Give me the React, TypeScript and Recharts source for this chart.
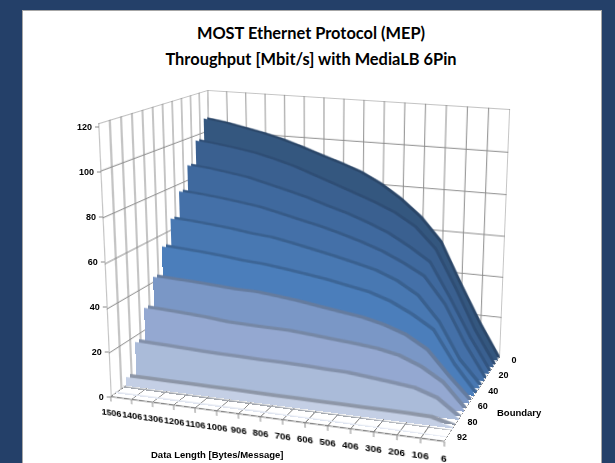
import React from "react"
import { Area, AreaChart, CartesianGrid, XAxis, YAxis } from "recharts"

const dataLengths = [1506, 1406, 1306, 1206, 1106, 1006, 906, 806, 706, 606, 506, 406, 306, 206, 106, 6]
const boundaries = [0, 10, 20, 30, 40, 50, 60, 70, 80, 90, 92]
const boundaryLabelTicks = [0, 2, 4, 6, 8, 10]
const valueTicks = [0, 20, 40, 60, 80, 100, 120]
const slotTicks = [0, 1, 2, 3, 4, 5, 6, 7, 8, 9, 10, 11]

const boundary0 = [106.7, 105.3, 103.4, 101.4, 99, 96, 92.7, 89.5, 86, 81, 74.5, 66.5, 55.5, 36, 17.5, 1]
const boundary10 = [97.5, 96.3, 95, 93.4, 91, 88.3, 84.8, 81.3, 77.8, 74.2, 70, 64.1, 54.3, 36.5, 17, 1]
const boundary20 = [87.2, 86.3, 84.9, 83.4, 81, 78.6, 76, 72.9, 70, 66.5, 62.4, 56.9, 50.5, 34.2, 16.5, 1]
const boundary30 = [76.5, 75.7, 74.7, 73.4, 72, 69.8, 67.5, 65.3, 62.6, 59.7, 56.2, 51.7, 46.4, 34.1, 16.2, 1]
const boundary40 = [65.5, 64.8, 63.9, 62.9, 61.5, 60.6, 58.7, 56.7, 54.6, 52.3, 49.8, 45.9, 40, 28.7, 12, 1]
const boundary50 = [54.5, 53.8, 53.1, 52.2, 51, 50.3, 49, 47.6, 46.1, 44.2, 42.3, 39, 34.1, 28, 13, 1]
const boundary60 = [42.5, 42, 41.5, 40.9, 40.2, 40, 39, 37.8, 36.3, 34.9, 33.5, 31.1, 27.7, 21.9, 11, 1]
const boundary70 = [30.5, 30, 29.4, 28.7, 27.7, 27.3, 27.1, 26.9, 26.1, 25.2, 24.4, 23.3, 21.3, 17.4, 11.4, 0.8]
const boundary80 = [17.3, 17, 16.6, 16.2, 15.8, 15.7, 15.4, 15.3, 15.1, 14.7, 14.4, 13.4, 12.4, 11.2, 7.9, 0.6]
const boundary90 = [4, 4, 3.9, 3.9, 3.8, 3.8, 3.7, 3.6, 3.6, 3.5, 3.5, 3.4, 3.4, 3.3, 3.1, 0.5]
const boundary92 = [0.6, 0.6, 0.6, 0.6, 0.6, 0.6, 0.6, 0.6, 0.5, 0.5, 0.5, 0.5, 0.4, 0.4, 0.3, 0.1]

const series = [boundary0, boundary10, boundary20, boundary30, boundary40, boundary50, boundary60, boundary70, boundary80, boundary90, boundary92]
const faceColors = ["#34577f", "#3a6090", "#3f699e", "#4470a8", "#4878b2", "#4b7ebb", "#7a97c6", "#94a8d1", "#aabbd9", "#c4cfe5", "#dfe5f0"]
const ridgeColors = ["#2a4668", "#2e4d74", "#32547f", "#365a87", "#39608f", "#3c6596", "#647b9e", "#7587a5", "#8290aa", "#8d96a7", "#a3a7ae"]

const FONT = "'Liberation Sans', Arial, sans-serif"
const tickFont = { fontSize: 9, fontWeight: 700, fontFamily: FONT, fill: "#000" }
const GRID = "#8a8a8a"

// box corners on screen, w = perspective weight of each far end
const O = [213, 324]
const X = [500, 357]
const Y = [207.7, 90]
const Z = [110.7, 396.7]
const wX = 0.94
const wY = 0.951
const wZ = 0.85

function hom(x: number, y: number, z: number) {
  const a = 1 - x - y - z
  return [
    a * O[0] + x * wX * X[0] + y * wY * Y[0] + z * wZ * Z[0],
    a * O[1] + x * wX * X[1] + y * wY * Y[1] + z * wZ * Z[1],
    a + x * wX + y * wY + z * wZ,
  ]
}

function planeMatrix(fn: (s: number, t: number) => number[], w: number, h: number) {
  const p00 = fn(0, 0)
  const p10 = fn(1, 0)
  const p01 = fn(0, 1)
  const col = (i: number) => [(p10[i] - p00[i]) / w, -(p01[i] - p00[i]) / h, p01[i]]
  const [ax, bx, cx] = col(0)
  const [ay, by, cy] = col(1)
  const [aw, bw, cw] = col(2)
  return `matrix3d(${ax},${ay},0,${aw},${bx},${by},0,${bw},0,0,1,0,${cx},${cy},0,${cw})`
}

const W = 320
const H = 260
const noMargin = { top: 0, right: 0, bottom: 0, left: 0 }

function Plane({ fn, w = W, h = H, children }: { fn: (s: number, t: number) => number[]; w?: number; h?: number; children: React.ReactNode }) {
  return (
    <div style={{ position: "absolute", left: 0, top: 0, width: w, height: h, transformOrigin: "0 0", transform: planeMatrix(fn, w, h) }}>
      {children}
    </div>
  )
}

function LayerChart({ values, fill, z }: { values: number[]; fill: string; z: number }) {
  const data = dataLengths.map((length, i) => ({ length, value: values[i] }))
  return (
    <Plane fn={(s, t) => hom(s, t, z)}>
      <AreaChart width={W} height={H} data={data} margin={noMargin}>
        <XAxis dataKey="length" hide />
        <YAxis hide domain={[0, 120]} />
        <Area type="linear" dataKey="value" fill={fill} fillOpacity={1} stroke={fill} strokeWidth={0.5} dot={false} activeDot={false} isAnimationActive={false} />
      </AreaChart>
    </Plane>
  )
}

// walls and floor only carry grid lines, the area in them stays invisible
function Blank() {
  return <Area type="linear" dataKey="base" fill="none" stroke="none" dot={false} activeDot={false} isAnimationActive={false} />
}

function BackWall() {
  const data = dataLengths.map((length) => ({ length, base: 0 }))
  return (
    <Plane fn={(s, t) => hom(s, t, 0)}>
      <AreaChart width={W} height={H} data={data} margin={noMargin}>
        <XAxis dataKey="length" hide interval={0} />
        <YAxis hide domain={[0, 120]} ticks={valueTicks} />
        <CartesianGrid stroke={GRID} />
        {Blank()}
      </AreaChart>
    </Plane>
  )
}

function SideWall() {
  const data = slotTicks.map((slot) => ({ slot, base: 0 }))
  return (
    <Plane fn={(s, t) => hom(0, t, s)} w={110} h={H}>
      <AreaChart width={110} height={H} data={data} margin={noMargin}>
        <XAxis dataKey="slot" hide interval={0} />
        <YAxis hide domain={[0, 120]} ticks={valueTicks} />
        <CartesianGrid stroke={GRID} />
        {Blank()}
      </AreaChart>
    </Plane>
  )
}

function Floor() {
  const data = dataLengths.map((length) => ({ length, base: 0 }))
  return (
    <Plane fn={(s, t) => hom(s, 0, 1 - t)} w={W} h={90}>
      <AreaChart width={W} height={90} data={data} margin={noMargin}>
        <XAxis dataKey="length" hide interval={0} />
        <YAxis hide domain={[0, 11]} ticks={slotTicks} />
        <CartesianGrid stroke={GRID} />
        {Blank()}
      </AreaChart>
    </Plane>
  )
}

function LengthAxis() {
  const data = dataLengths.map((length) => ({ length, base: 0 }))
  const pad = 30
  return (
    <Plane fn={(s, t) => hom(s, t, 1)} w={330} h={270}>
      <div style={{ position: "absolute", left: -pad, top: 0 }}>
        <AreaChart width={330 + 2 * pad} height={270 + 40} data={data} margin={{ top: 0, right: pad, bottom: 0, left: pad }}>
          <XAxis dataKey="length" interval={0} height={40} tick={{ ...tickFont, fontSize: 9.5 }} stroke={GRID} tickSize={5} tickMargin={8} />
          <YAxis hide domain={[0, 120]} />
          {Blank()}
        </AreaChart>
      </div>
    </Plane>
  )
}

function ValueTick({ y, payload }: any) {
  const edge = 99 + (y - 127) * 0.0433
  return (
    <g>
      <line x1={edge - 4} x2={edge} y1={y} y2={y} stroke={GRID} />
      <text x={edge - 7} y={y + 3} textAnchor="end" {...tickFont}>{payload.value}</text>
    </g>
  )
}

function BoundaryTick({ y, payload }: any) {
  const cx = 514 - (y - 360) * 0.675
  return (
    <text x={cx} y={y + 3} textAnchor="middle" {...tickFont}>{boundaries[payload.value]}</text>
  )
}

function ScreenAxes() {
  const data = [{ a: 0, base: 0 }, { a: 1, base: 0 }]
  return (
    <>
      <div style={{ position: "absolute", left: 0, top: 0 }}>
        <AreaChart width={200} height={463} data={data} margin={{ top: 127, right: 0, bottom: 66, left: 0 }}>
          <XAxis hide />
          <YAxis width={120} domain={[0, 120]} ticks={valueTicks} interval={0} tick={<ValueTick />} tickLine={false} axisLine={false} />
          {Blank()}
        </AreaChart>
      </div>
      <div style={{ position: "absolute", left: 0, top: 0 }}>
        <AreaChart width={600} height={463} data={data} margin={{ top: 360, right: 0, bottom: 26, left: 0 }}>
          <XAxis hide />
          <YAxis orientation="right" width={40} reversed domain={[0, 10]} ticks={boundaryLabelTicks} interval={0} tick={<BoundaryTick />} tickLine={false} axisLine={false} />
          {Blank()}
        </AreaChart>
      </div>
    </>
  )
}

const titleStyle: React.CSSProperties = {
  position: "absolute", left: 0, width: 622, textAlign: "center", fontFamily: "Lato, sans-serif", fontWeight: 700, fontSize: 16.4, color: "#000", lineHeight: "18px", whiteSpace: "nowrap",
}
const axisTitleStyle: React.CSSProperties = {
  position: "absolute", fontFamily: FONT, fontWeight: 700, fontSize: 9.5, color: "#000", whiteSpace: "nowrap",
}

export default function App() {
  return (
    <div style={{ position: "fixed", left: 0, top: 0, width: 615, height: 463, overflow: "hidden", background: "#244069" }}>
      <div style={{ position: "absolute", left: 22, top: 10, width: 578, height: 460, background: "#fff", border: "1.5px solid #a6a6a6" }} />
      <div style={{ ...titleStyle, top: 24 }}>MOST Ethernet Protocol (MEP)</div>
      <div style={{ ...titleStyle, top: 50 }}>Throughput [Mbit/s] with MediaLB 6Pin</div>
      <BackWall />
      <SideWall />
      <Floor />
      {series.map((values, i) => {
        const depth = i === 10 ? 0.75 : 0.42
        return (
          <React.Fragment key={boundaries[i]}>
            <LayerChart values={values} fill={ridgeColors[i]} z={(i + 0.55 - depth) / 11} />
            <LayerChart values={values} fill={faceColors[i]} z={(i + 0.55) / 11} />
          </React.Fragment>
        )
      })}
      <LengthAxis />
      <ScreenAxes />
      <div style={{ ...axisTitleStyle, left: 151, top: 449 }}>Data Length [Bytes/Message]</div>
      <div style={{ ...axisTitleStyle, left: 497, top: 407 }}>Boundary</div>
    </div>
  )
}
